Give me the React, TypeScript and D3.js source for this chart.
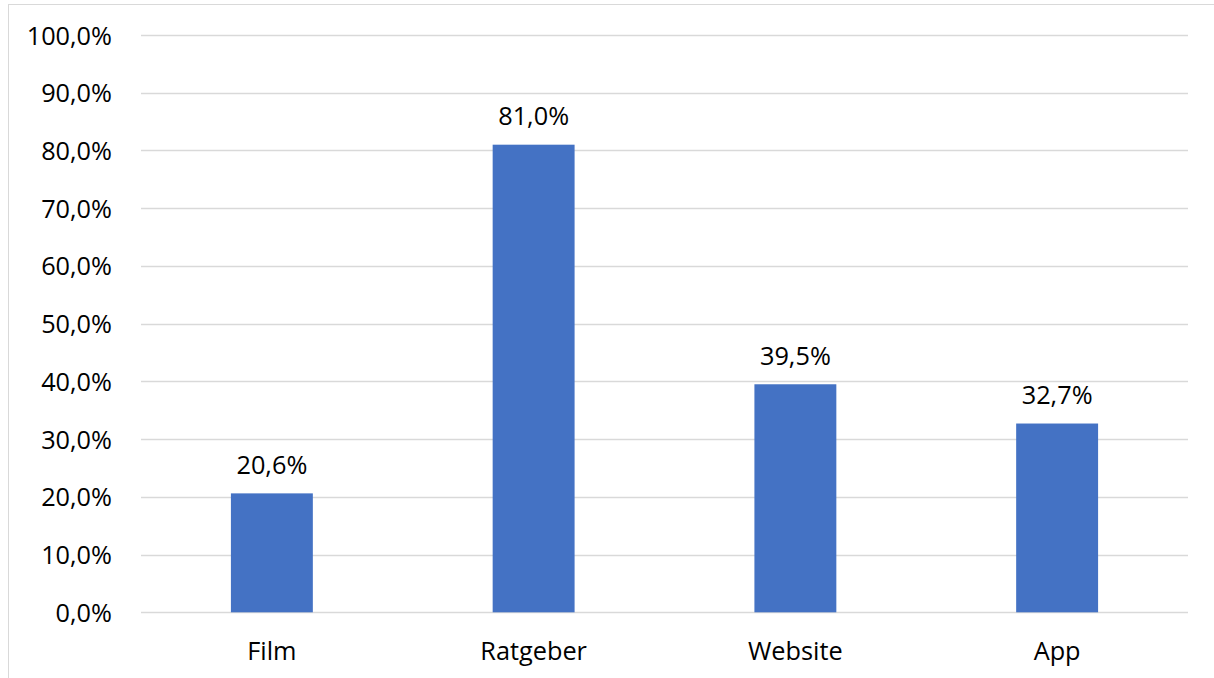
import React from "react";
import * as d3 from "d3";

const categories = ["Film", "Ratgeber", "Website", "App"];
const values = [20.6, 81.0, 39.5, 32.7];
const yTicks = [0, 10, 20, 30, 40, 50, 60, 70, 80, 90, 100];

const W = 1214;
const H = 678;
const FONT = "'Open Sans', sans-serif";
const FS = 25.3;
const fmt = (v: number) => v.toFixed(1).replace(".", ",") + "%";

export default function App() {
  const x = d3.scaleBand<string>().domain(categories).range([141, 1188]).padding(0);
  const y = d3.scaleLinear().domain([0, 100]).range([612.3, 35]);
  const bw = x.bandwidth() * 0.313;

  return (
    <svg width={W} height={H} style={{ position: "absolute", left: 0, top: 0, background: "#fff" }}>
      <rect x={8.5} y={4.5} width={W + 10} height={H + 10} fill="#fff" stroke="#d9d9d9" strokeWidth={1} />
      {yTicks.map((t) => (
        <g key={t}>
          <line x1={141} x2={1188} y1={Math.round(y(t)) + 0.5} y2={Math.round(y(t)) + 0.5} stroke="#d9d9d9" strokeWidth={1.5} />
          <text x={112} y={y(t) + 9.5} textAnchor="end" fontFamily={FONT} fontSize={FS} fill="#000">
            {fmt(t)}
          </text>
        </g>
      ))}
      {categories.map((c, i) => {
        const cx = (x(c) as number) + x.bandwidth() / 2;
        return (
          <g key={c}>
            <rect x={cx - bw / 2} y={y(values[i])} width={bw} height={y(0) - y(values[i])} fill="#4472c4" />
            <text x={cx} y={y(values[i]) - 19.5} textAnchor="middle" fontFamily={FONT} fontSize={FS} fill="#000">
              {fmt(values[i])}
            </text>
            <text x={cx} y={660} textAnchor="middle" fontFamily={FONT} fontSize={FS} fill="#000">
              {c}
            </text>
          </g>
        );
      })}
    </svg>
  );
}
